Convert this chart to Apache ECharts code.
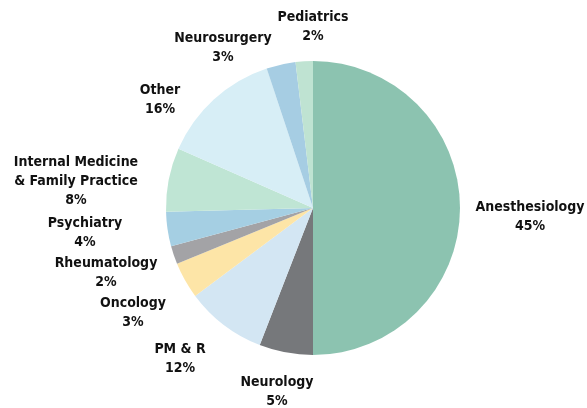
<!DOCTYPE html>
<html>
<head>
<meta charset="utf-8">
<script src="https://cdn.jsdelivr.net/npm/echarts@6/dist/echarts.min.js"></script>
<style>
  html, body { margin: 0; padding: 0; background: #fff; }
  #main { width: 587px; height: 408px; }
</style>
</head>
<body>
<div id="main"></div>
<script>
// slices, clockwise from 12 o'clock
const categories = ['Anesthesiology', 'Neurology', 'PM & R', 'Oncology', 'Rheumatology',
  'Psychiatry', 'Internal Medicine\n& Family Practice', 'Other', 'Neurosurgery', 'Pediatrics'];
const sliceValues = [50, 5.9, 8.9, 4.0, 2.0, 3.8, 7.0, 13.3, 3.2, 1.9];
// percentages printed in the labels
const labelPct = [45, 5, 12, 3, 2, 4, 8, 16, 3, 2];

const colors = ['#8cc3b0', '#76787b', '#d3e6f3', '#fde5a7', '#a3a3a6',
  '#a5cfe3', '#bfe5d4', '#d7eef6', '#a6cde3', '#bfe3d2'];
// label block centres (px)
const labelPos = [[530, 217], [277, 392], [180, 359], [133, 313], [106, 273],
  [85, 233], [76, 181], [160, 100], [223, 48], [313, 27]];

const chart = echarts.init(document.getElementById('main'), null, { renderer: 'canvas' });

chart.setOption({
  animation: false,
  series: [{
    type: 'pie',
    center: [313, 208],
    radius: 147,
    startAngle: 90,
    clockwise: true,
    avoidLabelOverlap: false,
    itemStyle: { borderWidth: 0 },
    label: {
      show: true,
      position: 'outside',
      color: '#111',
      fontFamily: '"DejaVu Sans Condensed", "DejaVu Sans", sans-serif',
      fontWeight: 'bold',
      fontSize: 14,
      lineHeight: 19,
      align: 'center',
      formatter: p => p.name + '\n' + labelPct[p.dataIndex] + '%'
    },
    labelLine: { show: false },
    labelLayout: p => ({
      x: labelPos[p.dataIndex][0],
      y: labelPos[p.dataIndex][1],
      align: 'center',
      verticalAlign: 'middle'
    }),
    data: categories.map((c, i) => ({
      name: c,
      value: sliceValues[i],
      itemStyle: { color: colors[i] }
    }))
  }]
});
</script>
</body>
</html>
